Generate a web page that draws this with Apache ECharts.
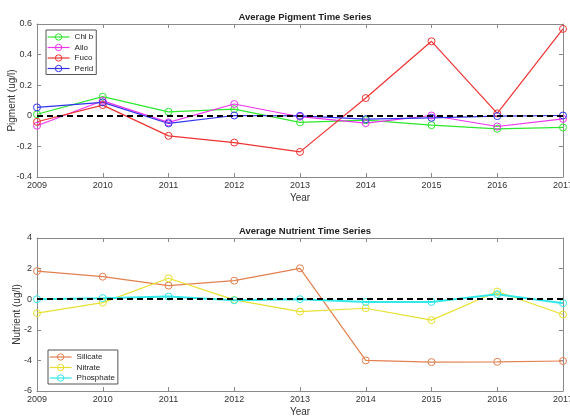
<!DOCTYPE html>
<html>
<head>
<meta charset="utf-8">
<script src="https://cdn.jsdelivr.net/npm/echarts@6/dist/echarts.min.js"></script>
<style>
  html, body { margin: 0; padding: 0; background: #fff; }
  #chart { width: 570px; height: 418px; }
</style>
</head>
<body>
<div id="chart"></div>
<script>
// Years shared by both panels
const years = [2009, 2010, 2011, 2012, 2013, 2014, 2015, 2016, 2017];

// Pigment anomalies (ug/l)
const chlb  = [0.01, 0.125, 0.026, 0.044, -0.043, -0.028, -0.061, -0.085, -0.076];
const allo  = [-0.065, 0.098, -0.043, 0.077, -0.006, -0.048, 0.002, -0.07, -0.02];
const fuco  = [-0.039, 0.07, -0.131, -0.175, -0.236, 0.116, 0.487, 0.016, 0.568];
const perid = [0.055, 0.088, -0.05, 0.002, 0.0, -0.022, -0.013, -0.002, 0.002];

// Nutrient anomalies (ug/l)
const silicate  = [1.84, 1.47, 0.89, 1.21, 2.02, -4.0, -4.11, -4.09, -4.04];
const nitrate   = [-0.91, -0.22, 1.37, -0.04, -0.81, -0.59, -1.37, 0.5, -1.0];
const phosphate = [0.0, 0.07, 0.17, -0.07, 0.0, -0.18, -0.18, 0.32, -0.26];

const pigmentTicks = [-0.4, -0.2, 0, 0.2, 0.4, 0.6];
const nutrientTicks = [-6, -4, -2, 0, 2, 4];

const FONT = 'Liberation Sans, Arial, sans-serif';
const AXIS_COLOR = '#8a8a8a';
const TEXT_COLOR = '#333';

const pairs = vals => years.map((y, i) => [y, vals[i]]);

// Line with hollow (unfilled) circle markers, so the line shows through them
function lineSeries(name, vals, color, xi, yi, width, extra) {
  return Object.assign({
    name: name,
    type: 'line',
    xAxisIndex: xi,
    yAxisIndex: yi,
    data: pairs(vals),
    symbol: 'circle',
    symbolSize: 7,
    showAllSymbol: true,
    lineStyle: { color: color, width: width },
    itemStyle: { color: 'rgba(255,255,255,0)', borderColor: color, borderWidth: 1 },
    emphasis: { disabled: true },
    animation: false,
    z: 3
  }, extra || {});
}

const zeroLine = {
  silent: true,
  symbol: 'none',
  label: { show: false },
  lineStyle: { color: '#000', type: [6, 4], width: 2 },
  data: [{ yAxis: 0 }],
  animation: false
};

function bottomX(gridIndex) {
  return {
    type: 'value', gridIndex: gridIndex, min: 2009, max: 2017, interval: 1,
    position: 'bottom',
    axisLine: { show: true, onZero: false, lineStyle: { color: AXIS_COLOR } },
    axisTick: { show: true, inside: true, length: 4, lineStyle: { color: AXIS_COLOR } },
    axisLabel: { color: TEXT_COLOR, fontFamily: FONT, fontSize: 9, margin: 4, formatter: v => String(v) },
    splitLine: { show: false },
    name: 'Year', nameLocation: 'middle', nameGap: 16, nameMoveOverlap: false,
    nameTextStyle: { color: TEXT_COLOR, fontFamily: FONT, fontSize: 10 }
  };
}
function topX(gridIndex) {
  return {
    type: 'value', gridIndex: gridIndex, min: 2009, max: 2017, interval: 1,
    position: 'top',
    axisLine: { show: true, onZero: false, lineStyle: { color: AXIS_COLOR } },
    axisTick: { show: true, inside: true, length: 4, lineStyle: { color: AXIS_COLOR } },
    axisLabel: { show: false },
    splitLine: { show: false }
  };
}
function leftY(gridIndex, ticks, name, gap) {
  return {
    type: 'value', gridIndex: gridIndex,
    min: ticks[0], max: ticks[ticks.length - 1], interval: ticks[1] - ticks[0],
    position: 'left',
    axisLine: { show: true, onZero: false, lineStyle: { color: AXIS_COLOR } },
    axisTick: { show: true, inside: true, length: 4, lineStyle: { color: AXIS_COLOR } },
    axisLabel: { color: TEXT_COLOR, fontFamily: FONT, fontSize: 9, margin: 5,
                 formatter: v => String(Math.round(v * 10) / 10) },
    splitLine: { show: false },
    name: name, nameLocation: 'middle', nameGap: gap, nameRotate: 90, nameMoveOverlap: false,
    nameTextStyle: { color: TEXT_COLOR, fontFamily: FONT, fontSize: 10 }
  };
}
function rightY(gridIndex, ticks) {
  return {
    type: 'value', gridIndex: gridIndex,
    min: ticks[0], max: ticks[ticks.length - 1], interval: ticks[1] - ticks[0],
    position: 'right',
    axisLine: { show: true, onZero: false, lineStyle: { color: AXIS_COLOR } },
    axisTick: { show: true, inside: true, length: 4, lineStyle: { color: AXIS_COLOR } },
    axisLabel: { show: false },
    splitLine: { show: false }
  };
}

const legendBase = {
  orient: 'vertical',
  backgroundColor: '#fff',
  borderColor: '#555',
  borderWidth: 1,
  borderRadius: 0,
  padding: [3, 3, 2, 1],
  itemGap: 2.5,
  itemWidth: 22,
  itemHeight: 8,
  textStyle: { color: '#222', fontFamily: FONT, fontSize: 8 },
  lineStyle: { width: 1.2 },
  itemStyle: { borderWidth: 1 },
  selectedMode: false
};

const chart = echarts.init(document.getElementById('chart'), null, { renderer: 'canvas' });
chart.setOption({
  backgroundColor: '#fff',
  animation: false,
  title: [
    { text: 'Average Pigment Time Series', left: 300, top: 7, textAlign: 'center',
      textStyle: { fontFamily: FONT, fontSize: 9.5, fontWeight: 'bold', color: '#222' } },
    { text: 'Average Nutrient Time Series', left: 300, top: 221, textAlign: 'center',
      textStyle: { fontFamily: FONT, fontSize: 9.5, fontWeight: 'bold', color: '#222' } }
  ],
  legend: [
    Object.assign({}, legendBase, { left: 46, top: 30, data: ['Chl b', 'Allo', 'Fuco', 'Perid'] }),
    Object.assign({}, legendBase, { left: 48, top: 350, data: ['Silicate', 'Nitrate', 'Phosphate'] })
  ],
  grid: [
    { left: 37, right: 7, top: 24, height: 153, containLabel: false, outerBoundsMode: 'none' },
    { left: 37, right: 7, top: 238, height: 153, containLabel: false, outerBoundsMode: 'none' }
  ],
  xAxis: [bottomX(0), topX(0), bottomX(1), topX(1)],
  yAxis: [
    leftY(0, pigmentTicks, 'Pigment (ug/l)', 20), rightY(0, pigmentTicks),
    leftY(1, nutrientTicks, 'Nutrient (ug/l)', 15), rightY(1, nutrientTicks)
  ],
  series: [
    lineSeries('Chl b', chlb, '#2ee82e', 0, 0, 1.2),
    lineSeries('Allo', allo, '#ee33ee', 0, 0, 1.2),
    lineSeries('Fuco', fuco, '#ee3333', 0, 0, 1.2),
    lineSeries('Perid', perid, '#3333ee', 0, 0, 1.2, { markLine: zeroLine }),
    lineSeries('Silicate', silicate, '#e2804f', 2, 2, 1.2),
    lineSeries('Nitrate', nitrate, '#e8e030', 2, 2, 1.2),
    lineSeries('Phosphate', phosphate, '#33e8e8', 2, 2, 2, { markLine: zeroLine })
  ]
});
</script>
</body>
</html>
